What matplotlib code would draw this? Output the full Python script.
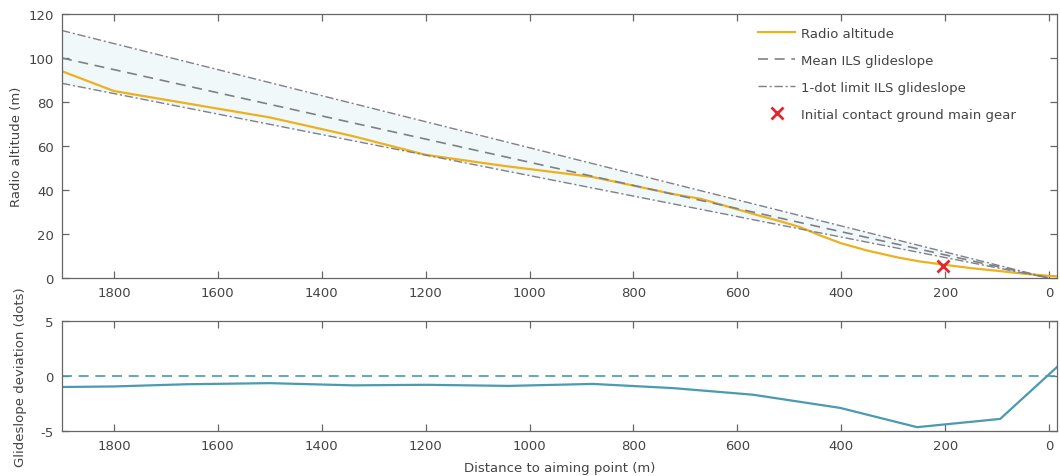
import numpy as np
import matplotlib.pyplot as plt

# distance to aiming point (m)
gs_dist = [1900, 0]
gs_mean = [100, 0]
gs_upper = [112.5, 0]
gs_lower = [88.5, 0]

ra_dist = [1900, 1800, 1500, 1400, 1340, 1200, 1050, 880, 720, 670, 560, 520, 480, 440, 400, 350, 290, 250, 200, 150, 100, 50, 0, -15]
ra_alt = [94, 85, 73, 67.7, 64.5, 56, 51, 46, 38, 36, 28.5, 26, 23.2, 19.3, 15.8, 12.5, 9.3, 7.6, 6.0, 4.5, 3.3, 2.0, 1.0, 0.8]

contact_dist = [205]
contact_alt = [5.5]

dev_dist = [1900, 1800, 1660, 1500, 1340, 1200, 1040, 878, 724, 570, 402, 254, 94, -15]
dev_dots = [-1.0, -0.95, -0.75, -0.65, -0.85, -0.8, -0.9, -0.72, -1.1, -1.7, -2.9, -4.65, -3.9, 0.8]

plt.rcParams['font.family'] = ['DejaVu Sans']
plt.rcParams['axes.unicode_minus'] = False
text_col = '#444444'
spine_col = '#666666'
fs = 9.5

fig = plt.figure(figsize=(10.6, 4.77), dpi=100)
ax1 = fig.add_axes([0.0585, 0.415, 0.9385, 0.5535])
ax2 = fig.add_axes([0.0585, 0.0943, 0.9385, 0.2307])

ax1.fill_between(gs_dist, gs_lower, gs_upper, color='#f1f8fa', lw=0)
ax1.plot(ra_dist, ra_alt, color='#edb120', lw=1.6, label='Radio altitude')
ax1.plot(gs_dist, gs_mean, color='#808088', lw=1.2, ls=(0, (6, 4)), label='Mean ILS glideslope')
ax1.plot(gs_dist, gs_upper, color='#808088', lw=1.0, ls=(0, (6, 2, 1.5, 2)), label='1-dot limit ILS glideslope')
ax1.plot(gs_dist, gs_lower, color='#808088', lw=1.0, ls=(0, (6, 2, 1.5, 2)))
ax1.plot(contact_dist, contact_alt, ls='none', marker='x', color='#e3262e', ms=9, mew=2,
         label='Initial contact ground main gear')

ax1.set_xlim(1900, -15)
ax1.set_ylim(0, 120)
ax1.set_yticks([0, 20, 40, 60, 80, 100, 120])
ax1.set_xticks([1800, 1600, 1400, 1200, 1000, 800, 600, 400, 200, 0])
ax1.set_ylabel('Radio altitude (m)', color=text_col, fontsize=fs, labelpad=4)
ax1.legend(loc='upper left', bbox_to_anchor=(0.70, 0.951), frameon=False, fontsize=fs,
           borderpad=0, borderaxespad=0, handlelength=2.8, handletextpad=0.4,
           labelspacing=1.05, labelcolor=text_col)

ax2.axhline(0, color='#4a9ab0', lw=1.2, ls=(0, (6, 4)))
ax2.plot(dev_dist, dev_dots, color='#4a9ab0', lw=1.6)
ax2.set_xlim(1900, -15)
ax2.set_ylim(-5, 5)
ax2.set_yticks([-5, 0, 5])
ax2.set_xticks([1800, 1600, 1400, 1200, 1000, 800, 600, 400, 200, 0])
ax2.set_ylabel('Glideslope deviation (dots)', color=text_col, fontsize=fs, labelpad=10)
ax2.set_xlabel('Distance to aiming point (m)', color=text_col, fontsize=fs, labelpad=6)

for ax in (ax1, ax2):
    for s in ax.spines.values():
        s.set_color(spine_col)
        s.set_linewidth(0.9)
    ax.tick_params(direction='in', top=True, right=True, length=5, width=0.9,
                   color=spine_col, labelcolor=text_col, labelsize=fs, pad=6)

fig.savefig('out.png', dpi=100)
